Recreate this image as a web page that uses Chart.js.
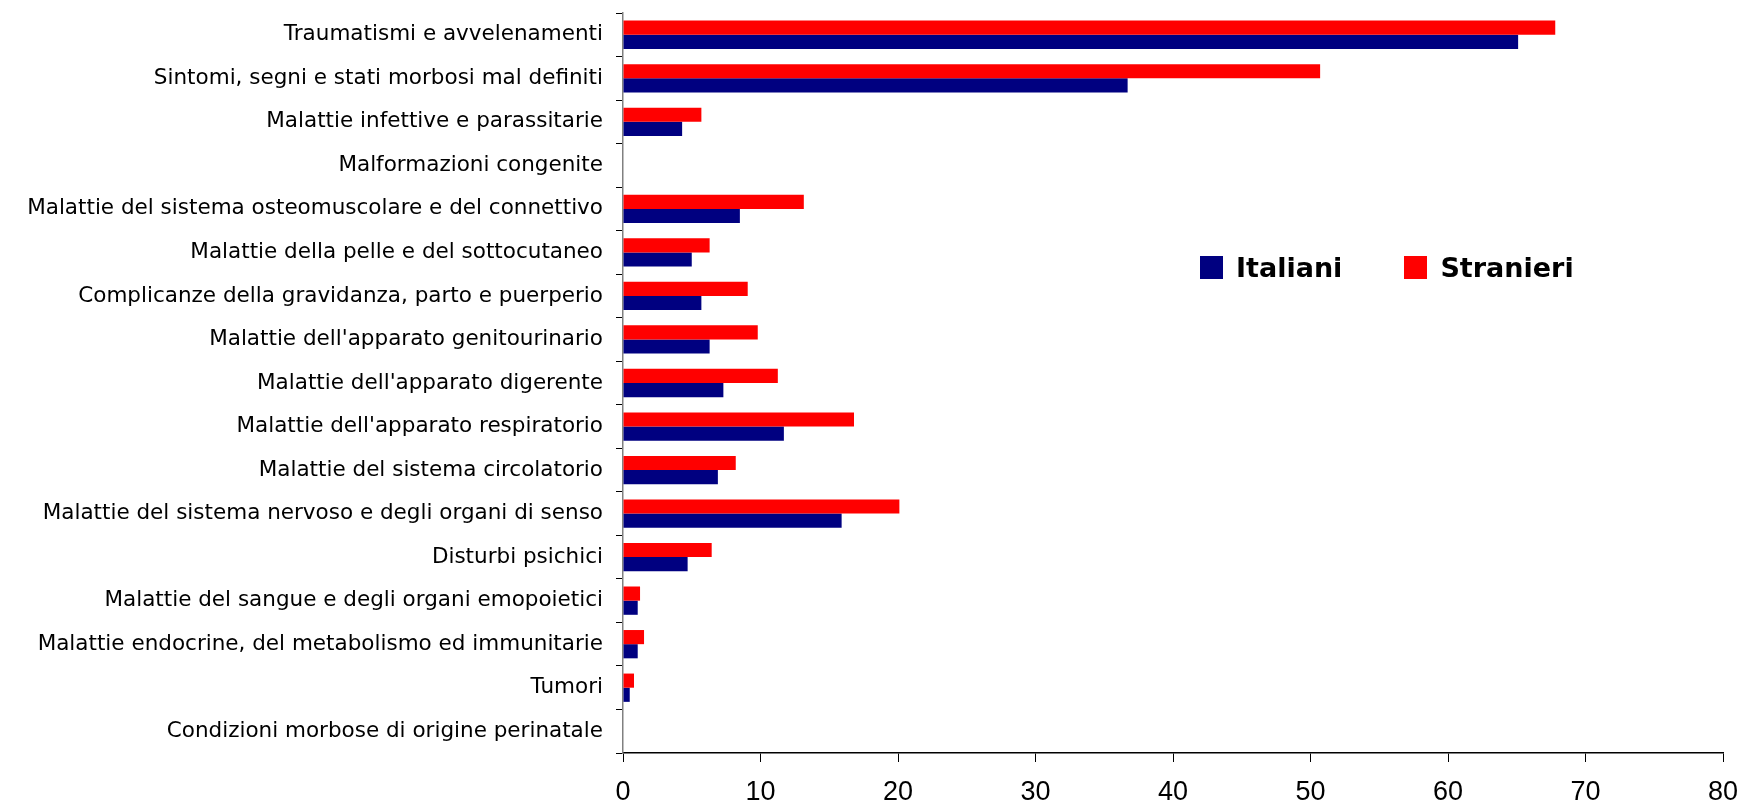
<!DOCTYPE html>
<html lang="it">
<head>
<meta charset="utf-8">
<title>Italiani e stranieri</title>
<script src="https://cdn.jsdelivr.net/npm/chart.js@4/dist/chart.umd.min.js"></script>
<style>
    html, body { margin: 0; padding: 0; background: #ffffff; }
    #wrap { position: relative; width: 1742px; height: 801px; }
    #legenda {
        position: absolute; left: 1200px; top: 252px;
        display: flex; align-items: center;
        font-family: "Comic Sans MS", "DejaVu Sans", sans-serif;
        font-weight: bold; font-size: 27px; color: #000;
    }
    #legenda .voce { display: flex; align-items: center; margin-right: 62px; }
    #legenda .box { width: 23px; height: 23px; margin-right: 13px; }
</style>
</head>
<body>
<div id="wrap">
    <canvas id="grafico"></canvas>
    <div id="legenda"></div>
</div>
<script>
const categorie = [
    "Traumatismi e avvelenamenti",
    "Sintomi, segni e stati morbosi mal definiti",
    "Malattie infettive e parassitarie",
    "Malformazioni congenite",
    "Malattie del sistema osteomuscolare e del connettivo",
    "Malattie della pelle e del sottocutaneo",
    "Complicanze della gravidanza, parto e puerperio",
    "Malattie dell'apparato genitourinario",
    "Malattie dell'apparato digerente",
    "Malattie dell'apparato respiratorio",
    "Malattie del sistema circolatorio",
    "Malattie del sistema nervoso e degli organi di senso",
    "Disturbi psichici",
    "Malattie del sangue e degli organi emopoietici",
    "Malattie endocrine, del metabolismo ed immunitarie",
    "Tumori",
    "Condizioni morbose di origine perinatale"
];
const italiani = [65.1, 36.7, 4.3, 0, 8.5, 5.0, 5.7, 6.3, 7.3, 11.7, 6.9, 15.9, 4.7, 1.07, 1.07, 0.49, 0];
const stranieri = [67.8, 50.7, 5.7, 0, 13.15, 6.3, 9.07, 9.8, 11.26, 16.8, 8.2, 20.1, 6.45, 1.24, 1.53, 0.8, 0];
const tickX = [0, 10, 20, 30, 40, 50, 60, 70, 80];

const BLU = "#000080";
const ROSSO = "#ff0000";

document.addEventListener("DOMContentLoaded", () => {
    const ctx = document.getElementById("grafico").getContext("2d");

    const data = {
        labels: categorie,
        datasets: [
            {
                label: "Stranieri",
                data: stranieri,
                backgroundColor: ROSSO,
                categoryPercentage: 0.65,
                barPercentage: 1.0
            },
            {
                label: "Italiani",
                data: italiani,
                backgroundColor: BLU,
                categoryPercentage: 0.65,
                barPercentage: 1.0
            }
        ]
    };

    new Chart(ctx, {
        type: "bar",
        data: data,
        options: {
            indexAxis: "y",
            responsive: true,
            maintainAspectRatio: false,
            animation: false,
            layout: { padding: { top: 13, right: 19, left: 0, bottom: 0 } },
            plugins: {
                legend: { display: false },
                tooltip: { enabled: false }
            },
            scales: {
                x: {
                    min: 0,
                    max: 80,
                    afterBuildTicks: (scale) => {
                        scale.ticks = tickX.map(v => ({ value: v }));
                    },
                    afterFit: (scale) => {
                        scale.height = 48;
                        scale.paddingLeft = 0;
                        scale.paddingRight = 0;
                    },
                    ticks: {
                        color: "#000",
                        padding: 14,
                        font: { family: "'Liberation Sans', Arial, sans-serif", size: 27 }
                    },
                    grid: {
                        drawOnChartArea: false,
                        tickLength: 9,
                        color: "#000"
                    },
                    border: { color: "#000", width: 1.5 }
                },
                y: {
                    afterFit: (scale) => {
                        scale.width = 623;
                        scale.paddingTop = 0;
                        scale.paddingBottom = 0;
                    },
                    ticks: {
                        color: "#000",
                        padding: 13,
                        autoSkip: false,
                        font: { family: "'Comic Sans MS', 'DejaVu Sans', sans-serif", size: 21.5 }
                    },
                    grid: {
                        offset: true,
                        drawOnChartArea: false,
                        tickLength: 7,
                        color: "#000"
                    },
                    border: { color: "#808080", width: 1.5 }
                }
            }
        }
    });

    // legenda HTML: Italiani prima, poi Stranieri
    const legenda = document.getElementById("legenda");
    [["Italiani", BLU], ["Stranieri", ROSSO]].forEach(([nome, colore]) => {
        const voce = document.createElement("div");
        voce.className = "voce";
        const box = document.createElement("span");
        box.className = "box";
        box.style.background = colore;
        voce.appendChild(box);
        voce.appendChild(document.createTextNode(nome));
        legenda.appendChild(voce);
    });
});
</script>
</body>
</html>
